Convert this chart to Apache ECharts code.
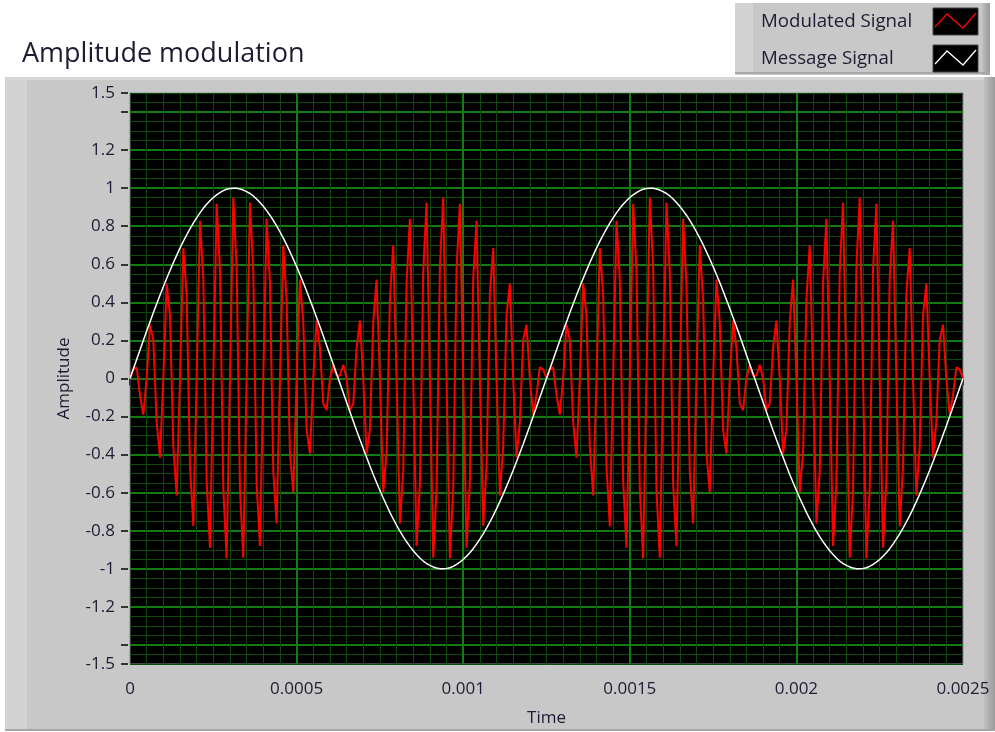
<!DOCTYPE html>
<html>
<head>
<meta charset="utf-8">
<script src="https://cdn.jsdelivr.net/npm/echarts@6/dist/echarts.min.js"></script>
<style>
html,body{margin:0;padding:0;background:#fff;}
#chart{width:995px;height:732px;}
</style>
</head>
<body>
<div id="chart"></div>
<script>
// Sample spacing of both waveforms (seconds)
const TIME_STEP = 0.00001;

// Modulated signal samples (251 samples, 0 .. 0.0025 s)
const modulatedSignal = [
  0, 0.048, 0.059, -0.088, -0.190,
  0, 0.283, 0.203, -0.230, -0.416,
  0, 0.499, 0.333, -0.357, -0.615,
  0, 0.685, 0.443, -0.462, -0.776,
  0, 0.828, 0.525, -0.538, -0.889,
  0, 0.918, 0.574, -0.580, -0.945,
  0, 0.951, 0.587, -0.586, -0.942,
  0, 0.924, 0.563, -0.554, -0.880,
  0, 0.839, 0.504, -0.488, -0.762,
  0, 0.701, 0.413, -0.391, -0.597,
  0, 0.520, 0.296, -0.270, -0.394,
  0, 0.305, 0.160, -0.132, -0.166,
  0, 0.072, 0.015, 0.015, 0.072,
  0, -0.166, -0.132, 0.160, 0.305,
  0, -0.394, -0.270, 0.296, 0.520,
  0, -0.597, -0.391, 0.413, 0.701,
  0, -0.762, -0.488, 0.504, 0.839,
  0, -0.880, -0.554, 0.563, 0.924,
  0, -0.942, -0.586, 0.587, 0.951,
  0, -0.945, -0.580, 0.574, 0.918,
  0, -0.889, -0.538, 0.525, 0.828,
  0, -0.776, -0.462, 0.443, 0.685,
  0, -0.615, -0.357, 0.333, 0.499,
  0, -0.416, -0.230, 0.203, 0.283,
  0, -0.190, -0.088, 0.059, 0.048,
  0, 0.048, 0.059, -0.088, -0.190,
  0, 0.283, 0.203, -0.230, -0.416,
  0, 0.499, 0.333, -0.357, -0.615,
  0, 0.685, 0.443, -0.462, -0.776,
  0, 0.828, 0.525, -0.538, -0.889,
  0, 0.918, 0.574, -0.580, -0.945,
  0, 0.951, 0.587, -0.586, -0.942,
  0, 0.924, 0.563, -0.554, -0.880,
  0, 0.839, 0.504, -0.488, -0.762,
  0, 0.701, 0.413, -0.391, -0.597,
  0, 0.520, 0.296, -0.270, -0.394,
  0, 0.305, 0.160, -0.132, -0.166,
  0, 0.072, 0.015, 0.015, 0.072,
  0, -0.166, -0.132, 0.160, 0.305,
  0, -0.394, -0.270, 0.296, 0.520,
  0, -0.597, -0.391, 0.413, 0.701,
  0, -0.762, -0.488, 0.504, 0.839,
  0, -0.880, -0.554, 0.563, 0.924,
  0, -0.942, -0.586, 0.587, 0.951,
  0, -0.945, -0.580, 0.574, 0.918,
  0, -0.889, -0.538, 0.525, 0.828,
  0, -0.776, -0.462, 0.443, 0.685,
  0, -0.615, -0.357, 0.333, 0.499,
  0, -0.416, -0.230, 0.203, 0.283,
  0, -0.190, -0.088, 0.059, 0.048,
  0
];

// Message signal samples (251 samples, 0 .. 0.0025 s)
const messageSignal = [
  0, 0.050, 0.100, 0.150, 0.200, 0.249, 0.297, 0.345, 0.391, 0.437,
  0.482, 0.525, 0.567, 0.608, 0.647, 0.685, 0.720, 0.754, 0.786, 0.816,
  0.844, 0.870, 0.894, 0.915, 0.934, 0.951, 0.965, 0.977, 0.987, 0.994,
  0.998, 1.000, 0.999, 0.996, 0.990, 0.982, 0.972, 0.959, 0.943, 0.925,
  0.905, 0.882, 0.858, 0.831, 0.802, 0.771, 0.738, 0.703, 0.666, 0.628,
  0.588, 0.546, 0.504, 0.460, 0.414, 0.368, 0.321, 0.273, 0.224, 0.175,
  0.125, 0.075, 0.025, -0.025, -0.075, -0.125, -0.175, -0.224, -0.273, -0.321,
  -0.368, -0.414, -0.460, -0.504, -0.546, -0.588, -0.628, -0.666, -0.703, -0.738,
  -0.771, -0.802, -0.831, -0.858, -0.882, -0.905, -0.925, -0.943, -0.959, -0.972,
  -0.982, -0.990, -0.996, -0.999, -1.000, -0.998, -0.994, -0.987, -0.977, -0.965,
  -0.951, -0.934, -0.915, -0.894, -0.870, -0.844, -0.816, -0.786, -0.754, -0.720,
  -0.685, -0.647, -0.608, -0.567, -0.525, -0.482, -0.437, -0.391, -0.345, -0.297,
  -0.249, -0.200, -0.150, -0.100, -0.050,
  0, 0.050, 0.100, 0.150, 0.200, 0.249, 0.297, 0.345, 0.391, 0.437,
  0.482, 0.525, 0.567, 0.608, 0.647, 0.685, 0.720, 0.754, 0.786, 0.816,
  0.844, 0.870, 0.894, 0.915, 0.934, 0.951, 0.965, 0.977, 0.987, 0.994,
  0.998, 1.000, 0.999, 0.996, 0.990, 0.982, 0.972, 0.959, 0.943, 0.925,
  0.905, 0.882, 0.858, 0.831, 0.802, 0.771, 0.738, 0.703, 0.666, 0.628,
  0.588, 0.546, 0.504, 0.460, 0.414, 0.368, 0.321, 0.273, 0.224, 0.175,
  0.125, 0.075, 0.025, -0.025, -0.075, -0.125, -0.175, -0.224, -0.273, -0.321,
  -0.368, -0.414, -0.460, -0.504, -0.546, -0.588, -0.628, -0.666, -0.703, -0.738,
  -0.771, -0.802, -0.831, -0.858, -0.882, -0.905, -0.925, -0.943, -0.959, -0.972,
  -0.982, -0.990, -0.996, -0.999, -1.000, -0.998, -0.994, -0.987, -0.977, -0.965,
  -0.951, -0.934, -0.915, -0.894, -0.870, -0.844, -0.816, -0.786, -0.754, -0.720,
  -0.685, -0.647, -0.608, -0.567, -0.525, -0.482, -0.437, -0.391, -0.345, -0.297,
  -0.249, -0.200, -0.150, -0.100, -0.050,
  0
];

const seriesNames = ['Modulated Signal', 'Message Signal'];
const xLabelValues = [0, 0.0005, 0.001, 0.0015, 0.002, 0.0025];
const yTickValues = [-1.5, -1.4, -1.2, -1, -0.8, -0.6, -0.4, -0.2, 0, 0.2, 0.4, 0.6, 0.8, 1, 1.2, 1.4, 1.5];
const yLabelValues = [-1.5, -1.2, -1, -0.8, -0.6, -0.4, -0.2, 0, 0.2, 0.4, 0.6, 0.8, 1, 1.2, 1.5];

const FONT = 'Open Sans';
const TEXT_COLOR = '#1c1c34';
const MAJOR_GRID = '#137c13';
const MINOR_GRID = '#0b4b0b';
const NONE = 'rgba(0,0,0,0)';

const toPairs = arr => arr.map((v, i) => [i * TIME_STEP, v]);
// major horizontal grid colour per custom tick: the frame edges (±1.5) stay plain
const majorYColors = yTickValues.map(v => (Math.abs(v) === 1.5 ? NONE : MAJOR_GRID));

const chart = echarts.init(document.getElementById('chart'), null, {renderer: 'canvas'});

const edgeGradient = () => new echarts.graphic.LinearGradient(0, 0, 1, 0, [
  {offset: 0, color: '#c0c0c0'}, {offset: 1, color: '#9a9a9a'}
]);

const option = {
  animation: false,
  backgroundColor: '#ffffff',
  textStyle: {fontFamily: FONT},
  title: {
    text: 'Amplitude modulation',
    left: 22, top: 41, padding: 0,
    textStyle: {fontFamily: FONT, fontSize: 27, fontWeight: 'normal', color: TEXT_COLOR}
  },
  legend: {
    orient: 'vertical', left: 756, top: 8, padding: 0,
    icon: 'rect', itemWidth: 0, itemHeight: 27, itemGap: 10,
    selectedMode: false,
    itemStyle: {opacity: 0},
    lineStyle: {opacity: 0},
    textStyle: {fontFamily: FONT, fontSize: 18.7, color: TEXT_COLOR},
    data: seriesNames
  },
  graphic: [
    {type: 'rect', z: -5, shape: {x: 5, y: 77, width: 990, height: 654}, style: {fill: '#c8c8c8'}, silent: true},
    {type: 'rect', z: -4, shape: {x: 5, y: 77, width: 22, height: 654}, style: {fill: '#d3d3d3'}, silent: true},
    {type: 'rect', z: -4, shape: {x: 5, y: 77, width: 990, height: 3}, style: {fill: '#d6d6d6'}, silent: true},
    {type: 'rect', z: -4, shape: {x: 984, y: 77, width: 11, height: 654}, style: {fill: edgeGradient()}, silent: true},
    {type: 'rect', z: -4, shape: {x: 5, y: 729, width: 990, height: 2}, style: {fill: '#a6a6a6'}, silent: true},
    {type: 'rect', z: -5, shape: {x: 735, y: 3, width: 255, height: 72}, style: {fill: '#c8c8c8'}, silent: true},
    {type: 'rect', z: -4, shape: {x: 735, y: 3, width: 18, height: 72}, style: {fill: '#d3d3d3'}, silent: true},
    {type: 'rect', z: -4, shape: {x: 982, y: 3, width: 8, height: 72}, style: {fill: edgeGradient()}, silent: true},
    {type: 'rect', z: -4, shape: {x: 735, y: 72, width: 255, height: 2}, style: {fill: '#a8a8a8'}, silent: true},
    {type: 'rect', z: 10, shape: {x: 933, y: 8, width: 45, height: 27}, style: {fill: '#000', stroke: '#444', lineWidth: 1}, silent: true},
    {type: 'polyline', z: 11, shape: {points: [[935, 27], [947, 14], [963, 28], [976, 13]]}, style: {stroke: '#ff0000', lineWidth: 1.3, fill: null}, silent: true},
    {type: 'rect', z: 10, shape: {x: 933, y: 45, width: 45, height: 27}, style: {fill: '#000', stroke: '#444', lineWidth: 1}, silent: true},
    {type: 'polyline', z: 11, shape: {points: [[935, 64], [947, 51], [963, 65], [976, 50]]}, style: {stroke: '#ffffff', lineWidth: 1.3, fill: null}, silent: true}
  ],
  grid: {
    left: 130, right: 32, top: 93, bottom: 68,
    show: true, backgroundColor: '#000000', borderColor: '#8a8a8a', borderWidth: 1
  },
  xAxis: {
    type: 'value', min: 0, max: 0.0025, interval: 0.0005, offset: 4,
    name: 'Time', nameLocation: 'middle', nameGap: 42,
    nameTextStyle: {fontFamily: FONT, fontSize: 17, color: TEXT_COLOR},
    axisLine: {show: false},
    axisTick: {show: true, length: 7, lineStyle: {color: '#333', width: 2}},
    axisLabel: {
      fontFamily: FONT, fontSize: 17, color: TEXT_COLOR, margin: 13,
      customValues: xLabelValues,
      formatter: v => String(+v.toFixed(4))
    },
    splitLine: {show: true, showMinLine: false, showMaxLine: false, lineStyle: {color: MAJOR_GRID, width: 2}},
    minorTick: {show: false, splitNumber: 10},
    minorSplitLine: {show: true, lineStyle: {color: MINOR_GRID, width: 1}}
  },
  yAxis: [
    {
      // fine grid (every 0.05); majors left transparent so the labelled axis draws them
      type: 'value', min: -1.5, max: 1.5, interval: 0.05, position: 'left',
      axisLine: {show: false}, axisTick: {show: false}, axisLabel: {show: false},
      splitLine: {show: true, lineStyle: {color: [MINOR_GRID, MINOR_GRID, NONE, MINOR_GRID], width: 1}}
    },
    {
      type: 'value', min: -1.5, max: 1.5, interval: 0.05, offset: 2, position: 'left',
      name: 'Amplitude', nameLocation: 'middle', nameGap: 55, nameRotate: 90,
      nameTextStyle: {fontFamily: FONT, fontSize: 17, color: TEXT_COLOR},
      axisLine: {show: false},
      axisTick: {show: true, length: 7, customValues: yTickValues, lineStyle: {color: '#333', width: 2}},
      axisLabel: {
        fontFamily: FONT, fontSize: 17, color: TEXT_COLOR, margin: 13,
        customValues: yLabelValues,
        formatter: v => String(+v.toFixed(2))
      },
      splitLine: {show: true, lineStyle: {color: majorYColors, width: 2}}
    }
  ],
  series: [
    {
      name: seriesNames[0], type: 'line', z: 3, yAxisIndex: 1,
      data: toPairs(modulatedSignal),
      showSymbol: false, symbol: 'none',
      lineStyle: {color: '#ff0000', width: 2},
      itemStyle: {color: '#ff0000'}
    },
    {
      name: seriesNames[1], type: 'line', z: 4, yAxisIndex: 1,
      data: toPairs(messageSignal),
      showSymbol: false, symbol: 'none',
      lineStyle: {color: '#ffffff', width: 1.5},
      itemStyle: {color: '#ffffff'}
    }
  ]
};

chart.setOption(option);
</script>
</body>
</html>
